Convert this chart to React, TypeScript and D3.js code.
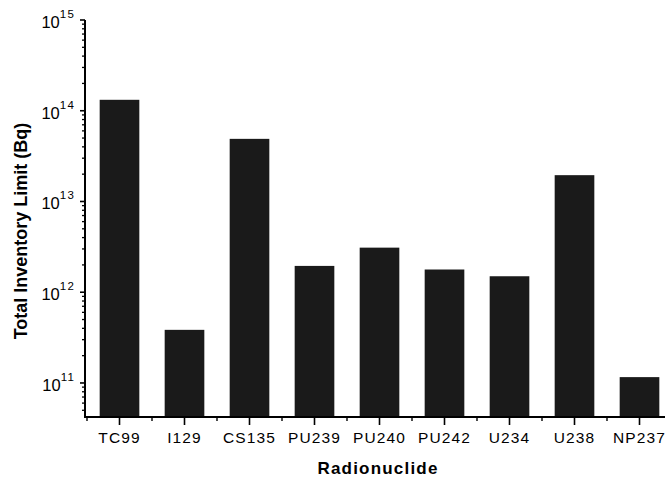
import React, { useEffect, useRef } from "react";
import * as d3 from "d3";

// values
const nuclides = ["TC99", "I129", "CS135", "PU239", "PU240", "PU242", "U234", "U238", "NP237"];
const inventoryLimits = [1.32e14, 3.85e11, 4.9e13, 1.95e12, 3.1e12, 1.78e12, 1.5e12, 1.95e13, 1.16e11];
const decadeTicks = [1e11, 1e12, 1e13, 1e14, 1e15];
const decadeExponents = ["11", "12", "13", "14", "15"];

const App = () => {
  const chartRef = useRef<SVGSVGElement | null>(null);

  useEffect(() => {
    const width = 665;
    const height = 482;
    const axisX = 85;
    const axisY = 417;
    const plotTop = 20;
    const font = "'Liberation Sans', Arial, sans-serif";

    const x = d3
      .scaleBand()
      .domain(nuclides)
      .range([87, 672])
      .paddingInner(0.39)
      .paddingOuter(0.195);

    const y = d3
      .scaleLog()
      .domain([Math.pow(10, 10.625), 1e15])
      .range([axisY, plotTop]);

    const svg = d3.select(chartRef.current);
    svg.selectAll("*").remove();
    svg.attr("width", width).attr("height", height).attr("viewBox", [0, 0, width, height]);

    // bars
    svg
      .append("g")
      .attr("fill", "#1a1a1a")
      .selectAll("rect")
      .data(nuclides)
      .join("rect")
      .attr("x", (d) => x(d)!)
      .attr("y", (d, i) => y(inventoryLimits[i]))
      .attr("width", x.bandwidth())
      .attr("height", (d, i) => axisY - y(inventoryLimits[i]));

    // x axis: major ticks at categories, minor ticks between them
    const step = x.step();
    const xAxis = svg.append("g").attr("transform", `translate(0,${axisY})`);
    xAxis
      .append("line")
      .attr("x1", axisX - 1)
      .attr("x2", width)
      .attr("stroke", "#000")
      .attr("stroke-width", 2);
    xAxis
      .selectAll(".major")
      .data(nuclides)
      .join("line")
      .attr("x1", (d) => x(d)! + x.bandwidth() / 2)
      .attr("x2", (d) => x(d)! + x.bandwidth() / 2)
      .attr("y2", 8)
      .attr("stroke", "#000")
      .attr("stroke-width", 1.6);
    xAxis
      .selectAll(".minor")
      .data(d3.range(nuclides.length + 1))
      .join("line")
      .attr("x1", (i) => 87 + i * step)
      .attr("x2", (i) => 87 + i * step)
      .attr("y2", 4)
      .attr("stroke", "#000")
      .attr("stroke-width", 1.4);
    xAxis
      .selectAll("text")
      .data(nuclides)
      .join("text")
      .attr("x", (d) => x(d)! + x.bandwidth() / 2)
      .attr("y", 26)
      .attr("text-anchor", "middle")
      .attr("font-family", font)
      .attr("font-size", 15.5)
      .attr("letter-spacing", 1.1)
      .text((d) => d);

    // y axis: decade ticks with labels, minor ticks for 2..9
    const yAxis = svg.append("g").attr("transform", `translate(${axisX},0)`);
    yAxis
      .append("line")
      .attr("y1", plotTop)
      .attr("y2", axisY + 1)
      .attr("stroke", "#000")
      .attr("stroke-width", 2);
    yAxis
      .selectAll(".minor")
      .data(y.ticks().filter((v) => !decadeTicks.includes(v)))
      .join("line")
      .attr("y1", (v) => y(v))
      .attr("y2", (v) => y(v))
      .attr("x1", -3)
      .attr("stroke", "#000")
      .attr("stroke-width", 1.3);
    yAxis
      .selectAll(".major")
      .data(decadeTicks)
      .join("line")
      .attr("y1", (v) => y(v))
      .attr("y2", (v) => y(v))
      .attr("x1", -5)
      .attr("stroke", "#000")
      .attr("stroke-width", 1.6);
    const labels = yAxis
      .selectAll(".lbl")
      .data(decadeTicks)
      .join("text")
      .attr("x", -10)
      .attr("y", (v) => y(v) + 8)
      .attr("text-anchor", "end")
      .attr("font-family", font)
      .attr("font-size", 16.5);
    labels.append("tspan").text("10");
    labels
      .append("tspan")
      .attr("dy", -10)
      .attr("font-size", 11.5)
      .attr("letter-spacing", 1.2)
      .text((v, i) => decadeExponents[i]);

    // axis titles
    svg
      .append("text")
      .attr("x", 378)
      .attr("y", 474)
      .attr("text-anchor", "middle")
      .attr("font-family", font)
      .attr("font-weight", "bold")
      .attr("font-size", 17)
      .attr("letter-spacing", 1.2)
      .text("Radionuclide");

    svg
      .append("text")
      .attr("transform", `translate(27,231) rotate(-90)`)
      .attr("text-anchor", "middle")
      .attr("font-family", font)
      .attr("font-weight", "bold")
      .attr("font-size", 18)
      .text("Total Inventory Limit (Bq)");
  }, []);

  return (
    <svg
      ref={chartRef}
      style={{ position: "absolute", left: 0, top: 0, background: "#fff" }}
    ></svg>
  );
};

export default App;
